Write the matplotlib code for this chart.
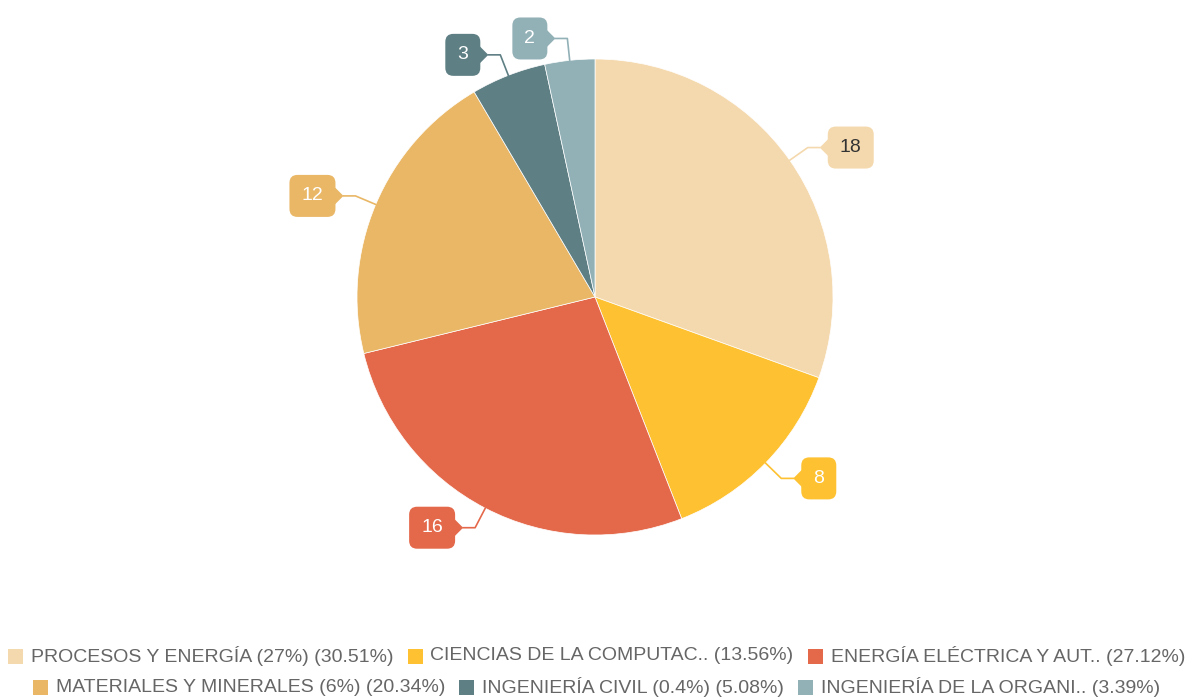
import numpy as np
import matplotlib
matplotlib.use("Agg")
import matplotlib.pyplot as plt
from matplotlib.patches import FancyBboxPatch, Polygon

# data
categories = ["PROCESOS Y ENERGÍA (27%)", "CIENCIAS DE LA COMPUTAC..",
              "ENERGÍA ELÉCTRICA Y AUT..", "MATERIALES Y MINERALES (6%)",
              "INGENIERÍA CIVIL (0.4%)", "INGENIERÍA DE LA ORGANI.."]
values = [18, 8, 16, 12, 3, 2]
shares = ["30.51%", "13.56%", "27.12%", "20.34%", "5.08%", "3.39%"]
colors = ["#F5D9AE", "#FDC131", "#E4694B", "#E9B766", "#5E7F84", "#92B1B7"]
label_text_colors = ["#333333", "white", "white", "white", "white", "white"]

W, H = 1187, 698
plt.rcParams["font.family"] = ["Liberation Sans", "DejaVu Sans"]

fig = plt.figure(figsize=(W / 100, H / 100), dpi=100)
ax = fig.add_axes([0, 0, 1, 1])

cx, cy, R = 595, H - 297, 238
wedges, _ = ax.pie(values, colors=colors, startangle=90, counterclock=False,
                   center=(cx, cy), radius=R,
                   wedgeprops=dict(edgecolor="white", linewidth=0.5))
ax.set_xlim(0, W)
ax.set_ylim(0, H)
ax.set_aspect("equal", adjustable="box")
ax.axis("off")

# callout labels
for w, v, col, tcol in zip(wedges, values, colors, label_text_colors):
    a = np.deg2rad((w.theta1 + w.theta2) / 2)
    ex, ey = cx + R * np.cos(a), cy + R * np.sin(a)
    kx, ky = cx + (R + 22) * np.cos(a), cy + (R + 22) * np.sin(a)
    side = 1 if np.cos(a) > 0 else -1
    tipx = kx + side * 12
    bw = 46 if v >= 10 else 35
    bh = 42
    ax.plot([ex, kx, tipx], [ey, ky, ky], color=col, lw=1.2, zorder=3)
    bx0 = tipx + side * 8 if side > 0 else tipx - 8 - bw
    box = FancyBboxPatch((bx0, ky - bh / 2), bw, bh,
                         boxstyle="round,pad=0,rounding_size=8",
                         fc=col, ec="none", zorder=4)
    ax.add_patch(box)
    edge_x = bx0 if side > 0 else bx0 + bw
    ax.add_patch(Polygon([[tipx, ky], [edge_x + side * 1, ky + 9],
                          [edge_x + side * 1, ky - 9]],
                         closed=True, fc=col, ec="none", zorder=4))
    ax.text(bx0 + bw / 2, ky, str(v), ha="center", va="center",
            fontsize=14, color=tcol, zorder=5)

# legend (two centred rows)
fig.canvas.draw()
renderer = fig.canvas.get_renderer()
rows = [[0, 1, 2], [3, 4, 5]]
row_y = [H - 656, H - 687]
sq, gap_sq, gap_item = 15, 8, 14
for row, y in zip(rows, row_y):
    texts = []
    for i in row:
        t = ax.text(0, y, f"{categories[i]} ({shares[i]})", fontsize=14,
                    color="#666666", va="center", ha="left")
        texts.append(t)
    widths = [t.get_window_extent(renderer).width for t in texts]
    total = sum(sq + gap_sq + wd for wd in widths) + gap_item * (len(row) - 1)
    x = W / 2 + 3 - total / 2
    for i, t, wd in zip(row, texts, widths):
        ax.add_patch(plt.Rectangle((x, y - sq / 2), sq, sq, fc=colors[i], ec="none"))
        t.set_x(x + sq + gap_sq)
        x += sq + gap_sq + wd + gap_item

fig.savefig("out.png", dpi=100)
